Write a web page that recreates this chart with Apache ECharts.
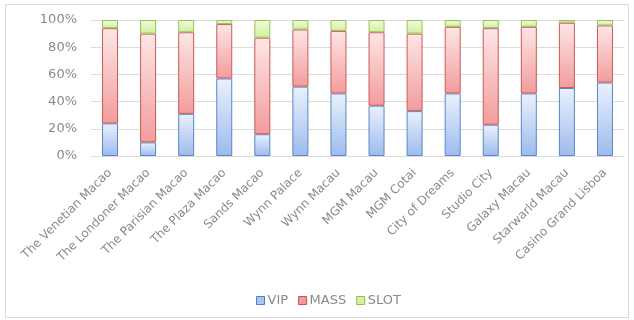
<!DOCTYPE html>
<html>
<head>
<meta charset="utf-8">
<script src="https://cdn.jsdelivr.net/npm/echarts@6/dist/echarts.min.js"></script>
<style>
  html, body { margin: 0; padding: 0; background: #fff; }
  #chart { width: 634px; height: 320px; }
</style>
</head>
<body>
<div id="chart"></div>
<script>
// casino names
const casinos = [
  "The Venetian Macao", "The Londoner Macao", "The Parisian Macao", "The Plaza Macao",
  "Sands Macao", "Wynn Palace", "Wynn Macau", "MGM Macau", "MGM Cotai",
  "City of Dreams", "Studio City", "Galaxy Macau", "Starwarld Macau", "Casino Grand Lisboa"
];
// share of revenue, percent
const vip  = [24, 10, 31, 57, 16, 51, 46, 37, 33, 46, 23, 46, 50, 54];
const mass = [70, 80, 60, 40, 71, 42, 46, 54, 57, 49, 71, 49, 48, 42];
const slot = [6, 10, 9, 3, 13, 7, 8, 9, 10, 5, 6, 5, 2, 4];
const yTicks = [0, 20, 40, 60, 80, 100];

function grad(top, bottom) {
  return new echarts.graphic.LinearGradient(0, 0, 0, 1, [
    { offset: 0, color: top },
    { offset: 1, color: bottom }
  ]);
}

const chart = echarts.init(document.getElementById("chart"));

const labelColor = "#8a8a8a";
const font = "DejaVu Sans, Verdana, sans-serif";

const option = {
  animation: false,
  grid: { left: 91, right: 10, top: 20, bottom: 164 },
  graphic: [
    {
      type: "rect",
      shape: { x: 5.5, y: 4.5, width: 623, height: 313 },
      style: { fill: "none", stroke: "#d9d9d9", lineWidth: 1 },
      silent: true
    }
  ],
  legend: {
    top: 289,
    left: 251,
    itemWidth: 8,
    itemHeight: 8,
    itemGap: 10,
    textStyle: { color: labelColor, fontSize: 13, fontFamily: font, padding: [0, 0, 0, -2] },
    data: [
      { name: "VIP", icon: "rect", itemStyle: { color: "#a9c3ee", borderColor: "#4f7fc4", borderWidth: 1 } },
      { name: "MASS", icon: "rect", itemStyle: { color: "#f29a9a", borderColor: "#c9504d", borderWidth: 1 } },
      { name: "SLOT", icon: "rect", itemStyle: { color: "#d8f0a4", borderColor: "#92be4f", borderWidth: 1 } }
    ]
  },
  xAxis: {
    type: "category",
    data: casinos,
    axisLine: { show: false },
    axisTick: { show: false },
    axisLabel: {
      rotate: 45,
      interval: 0,
      color: labelColor,
      fontSize: 12,
      fontFamily: font,
      margin: 15
    }
  },
  yAxis: {
    type: "value",
    min: yTicks[0],
    max: yTicks[yTicks.length - 1],
    interval: 20,
    axisLine: { show: false },
    axisTick: { show: false },
    splitLine: { lineStyle: { color: "#dcdcdc", width: 1 } },
    axisLabel: {
      formatter: "{value}%",
      color: labelColor,
      fontSize: 13,
      fontFamily: font,
      margin: 14
    }
  },
  series: [
    {
      name: "VIP",
      type: "bar",
      stack: "total",
      barWidth: 16,
      data: vip,
      itemStyle: {
        color: grad("#eaf1fc", "#9dbbee"),
        borderColor: "#5a86c6",
        borderWidth: 1
      }
    },
    {
      name: "MASS",
      type: "bar",
      stack: "total",
      barWidth: 16,
      data: mass,
      itemStyle: {
        color: grad("#fee6e6", "#f29c9c"),
        borderColor: "#c95b58",
        borderWidth: 1
      }
    },
    {
      name: "SLOT",
      type: "bar",
      stack: "total",
      barWidth: 16,
      data: slot,
      itemStyle: {
        color: grad("#f2fbdc", "#d2ef9c"),
        borderColor: "#96c05a",
        borderWidth: 1
      }
    }
  ]
};

chart.setOption(option);
</script>
</body>
</html>
